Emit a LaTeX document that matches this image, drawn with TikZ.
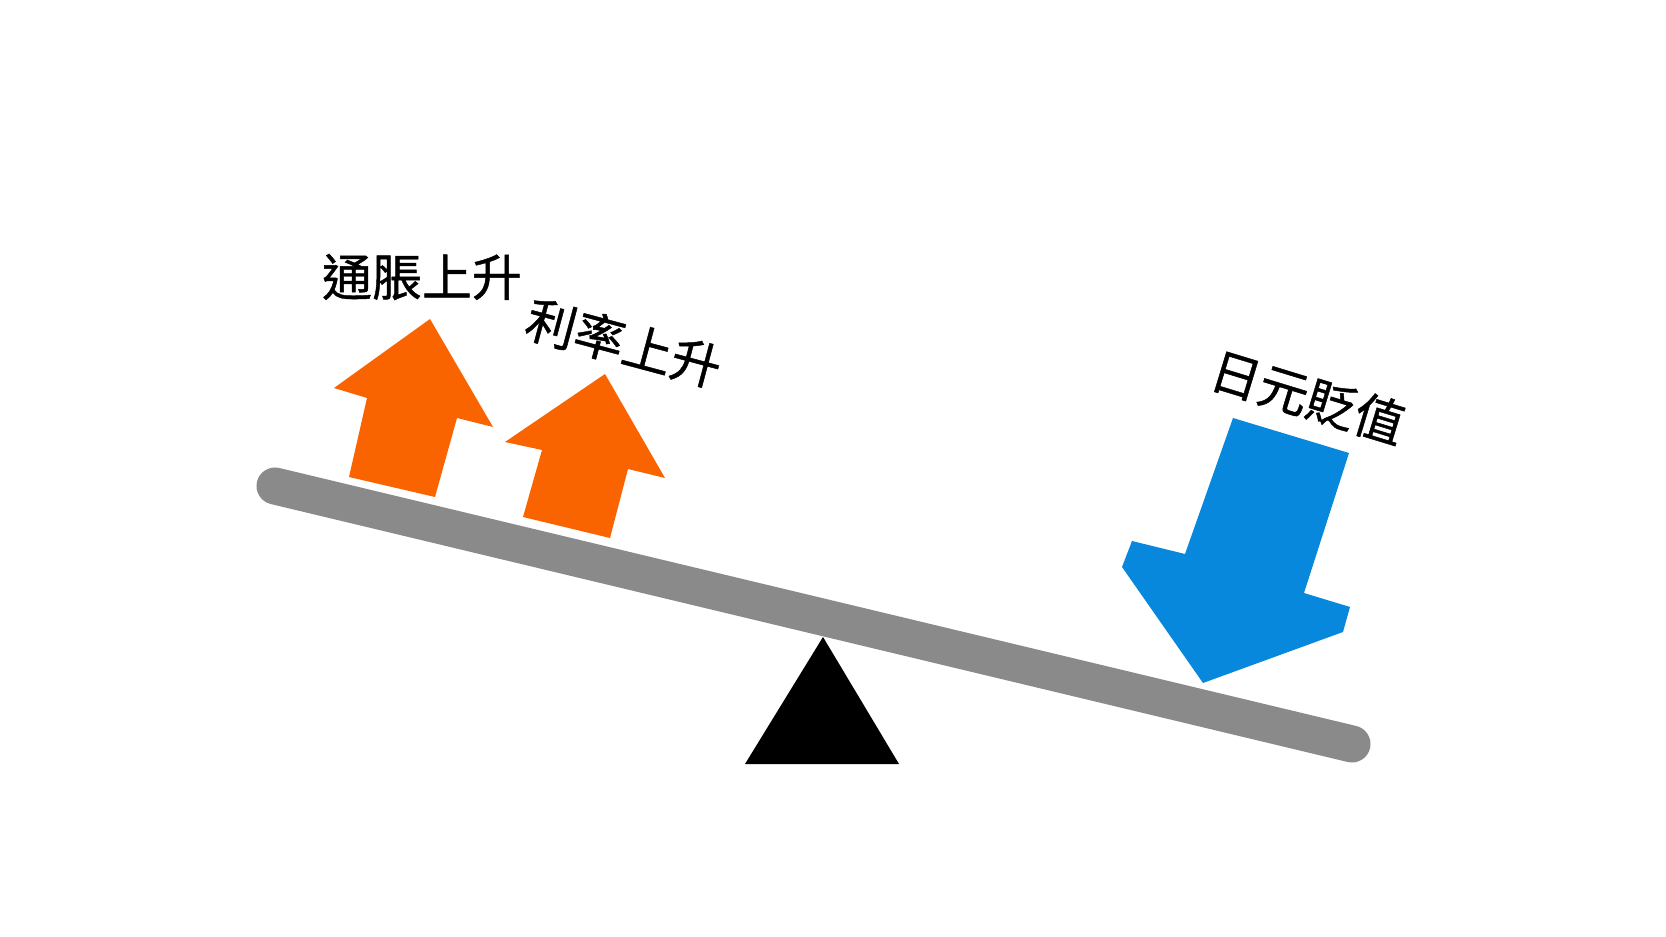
\documentclass[tikz,border=0pt]{standalone}
\usepackage{fontspec}
\newfontfamily\cjk[FakeBold=0.9]{Noto Sans CJK TC}
\definecolor{upcol}{HTML}{FA6400}
\definecolor{downcol}{HTML}{0888DC}
\definecolor{beamcol}{HTML}{8A8A8A}
\begin{document}
\begin{tikzpicture}[x=0.01cm,y=-0.01cm,
  lbl/.style={font=\cjk\fontsize{14.2}{17}\selectfont,inner sep=0pt}]
\useasboundingbox (0,0) rectangle (1666,937);
\coordinate (beamL) at (275,486);
\coordinate (beamR) at (1352,744);
\fill (823,637)--(899,764)--(745,764)--cycle;
\draw[beamcol,line width=0.37cm,line cap=round] (beamL)--(beamR);
\fill[upcol] (430,319)--(493,427)--(457,418)--(435,497)--(349,477)--(367,398)--(334,388)--cycle;
\fill[upcol] (605,374)--(665,478)--(628,469)--(610,538)--(523,517)--(542,450)--(505,442)--cycle;
\fill[downcol] (1233,418)--(1349,453)--(1304,593)--(1350,607)--(1343,632)--(1203,683)--(1122,567)--(1132,541)--(1185,554)--cycle;
\node[lbl] (inflation) at (422,277) {通脹上升};
\node[lbl,rotate=-15] (rate) at (624,343) {利率上升};
\node[lbl,rotate=-17] (yen) at (1308,397) {日元貶值};
\end{tikzpicture}
\end{document}
